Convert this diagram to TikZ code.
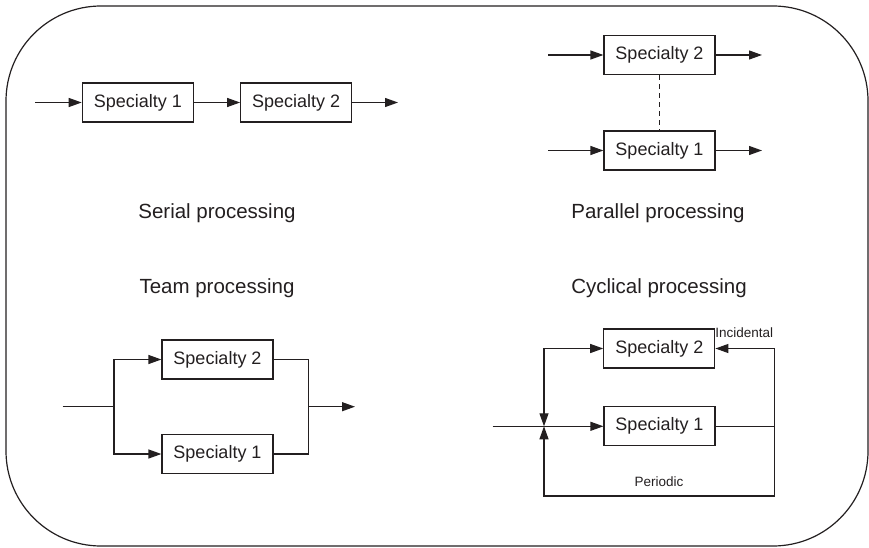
\documentclass[tikz,border=0pt]{standalone}
\usepackage{fontspec}
\setmainfont{Liberation Sans}
\usetikzlibrary{arrows.meta}
\definecolor{ink}{HTML}{231F20}
\begin{document}
\begin{tikzpicture}[x=1pt,y=-1pt, line width=1.2pt, color=ink,
  box/.style={draw=ink, line width=1.2pt, minimum width=111pt, minimum height=39pt,
              inner sep=0pt, font=\fontsize{18}{20}\selectfont},
  flow/.style={-{Triangle[length=13pt 0,width=9pt 0]}},
  title/.style={anchor=base, font=\fontsize{20.5}{24}\selectfont},
  tag/.style={font=\fontsize{13.5}{15}\selectfont}]
\useasboundingbox (0,0) rectangle (869,548);

% outer frame
\draw[rounded corners=95pt] (6,6) rectangle (868,546);

% serial processing
\node[box] (s1) at (137.8,102.5) {Specialty 1};
\node[box] (s2) at (296.2,102.5) {Specialty 2};
\coordinate (sin) at (35,102.5);
\coordinate (sout) at (398,102.5);
\draw[flow] (sin) -- (s1);
\draw[flow] (s1) -- (s2);
\draw[flow] (s2) -- (sout);
\node[title] (lserial) at (217,218) {Serial processing};

% parallel processing
\node[box] (p2) at (659.5,55) {Specialty 2};
\node[box] (p1) at (659.5,150.5) {Specialty 1};
\coordinate (p2in) at (548,55);
\coordinate (p2out) at (762,55);
\coordinate (p1in) at (548,150.5);
\coordinate (p1out) at (762,150.5);
\draw[flow] (p2in) -- (p2);
\draw[flow] (p2) -- (p2out);
\draw[flow] (p1in) -- (p1);
\draw[flow] (p1) -- (p1out);
\draw[dash pattern=on 5pt off 4pt] (p2) -- (p1);
\node[title] (lparallel) at (658,218) {Parallel processing};

% team processing
\node[title] (lteam) at (217,293) {Team processing};
\node[box] (t2) at (217.5,359.5) {Specialty 2};
\node[box] (t1) at (217.5,454) {Specialty 1};
\coordinate (tin) at (62.7,406.7);
\coordinate (tj) at (114,406.7);
\coordinate (tr) at (308.3,406.7);
\coordinate (tout) at (355,406.7);
\draw (tin) -- (tj);
\draw[flow] (tj) |- (t2);
\draw[flow] (tj) |- (t1);
\draw (t2) -| (tr);
\draw (t1) -| (tr);
\draw[flow] (tr) -- (tout);

% cyclical processing
\node[title] (lcyclical) at (659,293) {Cyclical processing};
\node[box] (c2) at (659.3,348.5) {Specialty 2};
\node[box] (c1) at (659.5,426.3) {Specialty 1};
\coordinate (cin) at (492.7,426.3);
\coordinate (cj) at (544,426.3);
\coordinate (ctl) at (544,348.5);
\coordinate (ctr) at (774.5,348.5);
\coordinate (cr1) at (774.5,426.3);
\coordinate (cbr) at (774.5,496);
\coordinate (cbl) at (544,496);
\draw[flow] (cin) -- (c1);
\draw[flow, line cap=rect] (ctl) -- (c2);
\draw[flow, line cap=rect] (ctl) -- (cj);
\draw (c1) -- (cr1);
\draw[flow, line join=miter] (cbr) -- (ctr) -- (c2);
\draw[flow, line join=miter] (cbr) -- (cbl) -- (cj);
\node[tag, anchor=base east] (linc) at (777,337.7) {Incidental};
\node[tag, anchor=base] (lper) at (659,486.7) {Periodic};
\end{tikzpicture}
\end{document}
